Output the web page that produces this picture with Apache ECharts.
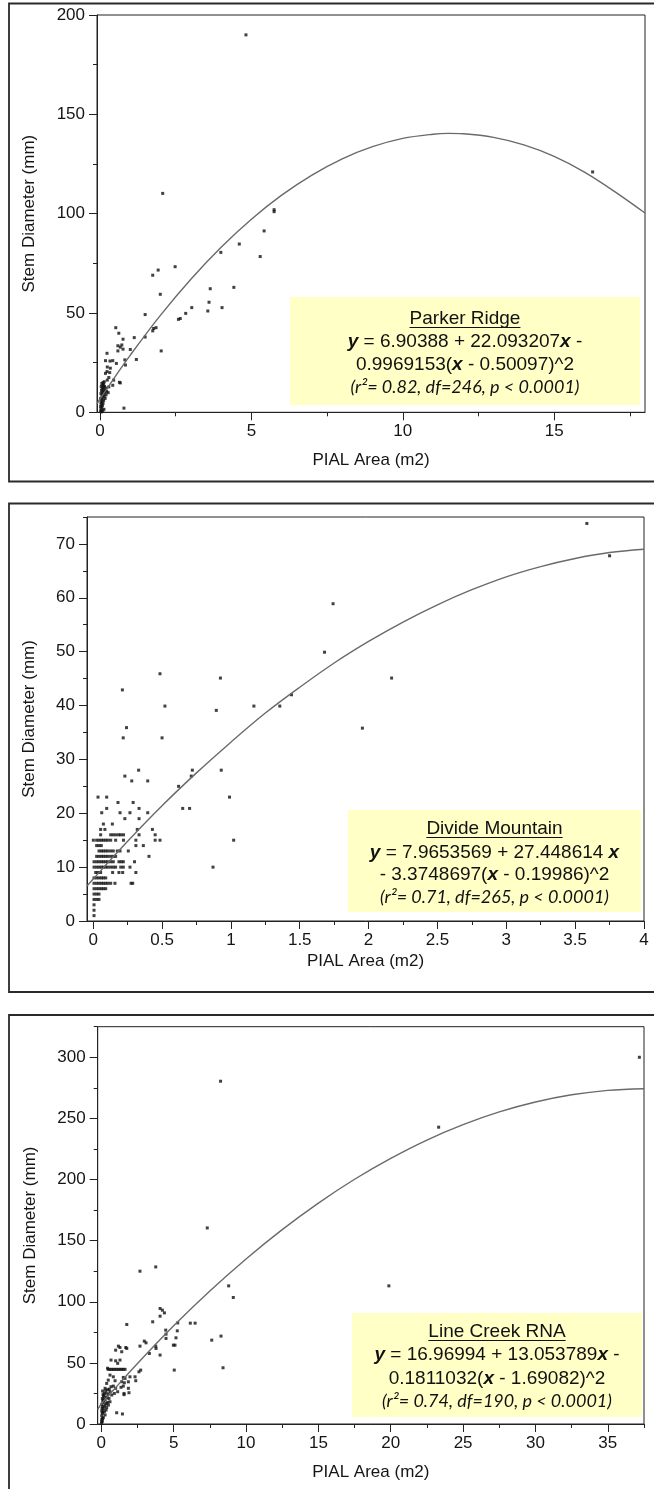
<!DOCTYPE html>
<html><head><meta charset="utf-8">
<script src="https://cdn.jsdelivr.net/npm/echarts@6/dist/echarts.min.js"></script>
<style>html,body{margin:0;padding:0;background:#fff}#c{width:654px;height:1489px}</style>
</head><body><div id="c"></div>
<script>
// ---------- Panel 1: Parker Ridge ----------
const p1XTicks = [0, 5, 10, 15];
const p1XMinor = [2.5, 7.5, 12.5, 17.5];
const p1YTicks = [0, 50, 100, 150, 200];
const p1YMinor = [25, 75, 125, 175];
const p1Points = [
 [4.82,190],[16.27,121],[5.75,102],[5.75,101],[5.42,91.3],[4.6,84.7],[3.99,80.5],[5.29,78.4],[2.07,110.2],[2.48,73.3],
 [1.92,71.6],[1.74,69],[1.99,59.4],[4.42,62.9],[3.64,62.2],[3.6,55.4],[4.03,52.7],[3.03,52.7],[3.56,51],[2.83,49.8],
 [2.65,47.2],[2.59,46.8],[1.49,49.2],[1.85,42.6],[1.77,42.2],[1.74,41],[1.49,37.9],[1.13,37.6],[2.02,30.9],[1.2,26.6],
 [0.52,42.6],[0.62,39.8],[0.76,36.8],[0.59,33.5],[0.67,32.8],[0.72,33.9],[0.76,31.8],[0.59,30.9],[1.0,31.6],[0.82,26.4],
 [0.84,23.8],[0.64,15.1],[0.79,2.1],
 [0.23,29.7],[0.18,26],[0.33,25.8],[0.42,26],[0.54,24.6],[0.24,22.8],[0.34,22.2],[0.23,20.5],[0.32,20],[0.18,19.6],
 [0.29,17.5],[0.24,16.2],[0.45,16.2],[0.14,15.4],[0.67,14.8],[0.42,13.6],[0.29,12.8],[0.27,9.9],
 [0.02,0.5],[0.04,1],[0.03,2],[0.06,2.5],[0.02,3],[0.08,3.5],[0.04,4],[0.1,4.5],[0.03,5],[0.07,5.5],[0.12,6],[0.05,6.5],
 [0.02,7],[0.09,7.5],[0.14,8],[0.06,8.5],[0.11,9],[0.03,9.5],[0.16,9.8],[0.08,10],[0.13,10.5],[0.05,11],[0.1,11.5],
 [0.18,11],[0.07,12],[0.12,12.5],[0.04,13],[0.15,13],[0.09,13.5],[0.12,14],[0.06,14.5],[0.1,15],[0.2,12.2],[0.22,10.5],
 [0.17,7],[0.2,8.8],[0.13,1.5],[0.09,0.8],[0.05,0.2]
];
const p1Curve = [[-0.1,4.3],[0,6.7],[0.5,18],[1,28.8],[2,48.9],[3,67],[4,83.1],[5,97.2],[6,109.3],[7,119.4],[8,127.6],
 [9,133.7],[10,137.9],[11,140],[11.5,140.4],[12,140.2],[13,138.4],[14,134.6],[15,128.8],[16,120.9],[17,111.1],[18,100.3]];
const p1Text = ['Parker Ridge', '{bi|y} = 6.90388 + 22.093207{bi|x} -', '0.9969153({bi|x} - 0.50097)^2', '(r\u00b2= 0.82, df=246, p < 0.0001)'];

// ---------- Panel 2: Divide Mountain ----------
const p2XTicks = [0, 0.5, 1, 1.5, 2, 2.5, 3, 3.5, 4];
const p2XMinor = [0.25, 0.75, 1.25, 1.75, 2.25, 2.75, 3.25, 3.75];
const p2YTicks = [0, 10, 20, 30, 40, 50, 60, 70];
const p2YMinor = [5, 15, 25, 35, 45, 55, 65, 75];
const p2Points = [
 [3.585,73.8],[3.75,67.8],[1.742,58.9],[1.68,49.9],[2.167,45.1],[1.955,35.8],[1.44,42],[1.355,39.9],[1.167,39.9],
 [0.924,45.1],[0.894,39.1],[0.485,45.9],[0.521,39.9],[0.5,34],[0.212,42.9],[0.242,35.9],[0.218,34],[0.93,28],[0.72,28],
 [0.712,26.9],[0.99,23],[1.02,15],[0.87,10],[0.65,20.9],[0.70,20.9],[0.62,25],[0.33,28],[0.396,26],[0.28,26],[0.23,26.9],
 [0.035,23],[0.098,23],[0.18,22],[0.29,22],[0.098,20.9],[0.333,20.9],[0.062,20.1],[0.195,20.1],[0.267,20.1],[0.396,20.1],
 [0.23,19],[0.333,19],[0.074,18],[0.139,18],[0.054,17],[0.085,17],[0.32,17],[0.43,17],
 [0.054,16],[0.127,16],[0.146,16],[0.165,16],[0.185,16],[0.2,16],[0.22,16],[0.333,16],[0.45,16],
 [0.001,15],[0.025,15],[0.042,15],[0.059,15],[0.074,15],[0.091,15],[0.107,15],[0.127,15],[0.163,15],[0.22,15],[0.31,15],[0.45,15],[0.485,15],
 [0.025,14],[0.042,14],[0.059,14],[0.31,14],[0.364,14],
 [0.042,13],[0.059,13],[0.074,13],[0.091,13],[0.107,13],[0.127,13],[0.146,13],[0.175,13],[0.195,13],[0.255,13],
 [0.025,12],[0.042,12],[0.059,12],[0.074,12],[0.091,12],[0.107,12],[0.127,12],[0.146,12],[0.163,12],[0.405,12],
 [0.006,11],[0.025,11],[0.042,11],[0.059,11],[0.074,11],[0.091,11],[0.107,11],[0.127,11],[0.146,11],[0.187,11],[0.204,11],[0.219,11],[0.3,11],
 [0.006,10],[0.025,10],[0.042,10],[0.059,10],[0.074,10],[0.091,10],[0.107,10],[0.127,10],[0.146,10],[0.163,10],[0.2,10],[0.219,10],[0.267,10],
 [0.018,9],[0.035,9],[0.054,9],[0.141,9],[0.187,9],[0.214,9],[0.31,9],
 [0.006,8],[0.025,8],[0.042,8],[0.059,8],[0.074,8],[0.091,8],
 [0.006,7],[0.025,7],[0.042,7],[0.059,7],[0.074,7],[0.091,7],[0.107,7],[0.127,7],[0.158,7],[0.275,7],[0.287,7],
 [0.006,6],[0.025,6],[0.042,6],[0.059,6],[0.074,6],[0.091,6],
 [0.006,5],[0.025,5],[0.042,5],[0.006,4],[0.025,4],[0.042,4],[0.006,3],[0.006,2],[0.006,1]
];
const p2Curve = [[-0.045,6.5],[0,7.8],[0.25,14.8],[0.5,21.4],[0.75,27.5],[1,33.2],[1.25,38.6],[1.5,43.4],[1.75,47.9],
 [2,51.9],[2.25,55.5],[2.5,58.7],[2.75,61.5],[3,63.9],[3.25,65.8],[3.5,67.3],[3.75,68.4],[4,69]];
const p2Text = ['Divide Mountain', '{bi|y} = 7.9653569 + 27.448614 {bi|x}', '- 3.3748697({bi|x} - 0.19986)^2', '(r\u00b2= 0.71, df=265, p < 0.0001)'];

// ---------- Panel 3: Line Creek RNA ----------
const p3XTicks = [0, 5, 10, 15, 20, 25, 30, 35];
const p3XMinor = [2.5, 7.5, 12.5, 17.5, 22.5, 27.5, 32.5, 37.5];
const p3YTicks = [0, 50, 100, 150, 200, 250, 300];
const p3YMinor = [25, 75, 125, 175, 225, 275, 325];
const p3Points = [
 [37.18,300],[23.31,242.8],[8.24,280.4],[7.32,160.4],[19.87,113],[8.8,113],[9.12,103.5],[8.27,71.9],[7.63,68.6],[8.41,46],
 [3.76,128.5],[2.67,125],[4.06,94.5],[4.22,93.1],[4.36,90.9],[4.06,88.2],[3.55,83.6],[1.76,81.4],[5.28,82.7],[6.15,82.5],
 [6.48,82.5],[4.45,76.8],[5.25,76.2],[4.47,73.5],[4.47,70],[5.16,70.5],[4.98,64.5],[5.09,64.5],[2.97,67.8],[3.09,66.4],
 [2.67,63.7],[3.76,63.7],[3.78,61.8],[3.32,57.7],[4.06,56.4],[5.04,44.1],[2.72,44.1],[2.6,42.7],[2.33,38.6],[2.38,35.4],
 [1.98,38.6],[1.87,34.5],[1.57,25],[1.57,24],[1.06,9.2],[1.46,8.2],
 [1.18,63.7],[1.29,62.6],[0.99,60.4],[1.41,59.1],[1.69,62.6],[1.76,61.8],[0.67,52.3],[0.99,51.7],[1.29,52.3],[1.13,49.6],
 [0.43,45.6],[0.48,44.7],[0.6,44.7],[0.71,44.7],[0.83,44.7],[0.94,44.7],[1.06,44.7],[1.18,44.7],[1.29,44.7],[1.41,44.7],[1.52,44.7],[1.64,44.7],
 [0.6,40],[0.83,38.6],[0.48,35.9],[0.95,35.4],[0.37,33.2],[1.52,38.1],[1.64,37.3],[1.41,34.6],[1.59,33.7],[1.52,31],[1.36,30],
 [0.67,30.5],[0.83,31],[0.99,29.2],[1.13,26.4],[0.9,25],[1.87,29.2],[1.91,25.6],
 [0.26,29.2],[0.44,28.1],[0.09,27],[0.6,26.4],[0.33,25.3],[0.48,24.5],[0.16,23.3],[0.72,23.7],[0.37,22.2],[0.07,20.9],
 [0.53,20.9],[0.26,19.6],[0.14,17.7],[0.44,17.7],[0.03,16.1],[0.26,15.5],[0.07,14.2],[0.37,13.4],[0.14,12.3],[0.03,10.6],
 [0.21,10.1],[0.07,8.7],[0.26,7.4],[0.03,6.8],[0.14,5.2],[0.03,3.8],[0.07,2.4],[0.03,1.9],[0.49,15.5],[0.6,18.2],
 [0.14,19.6],[0.33,11.4],[0.19,14.2],[0.3,27.5],[0.2,25],[0.55,28.5],[0.4,21.5],[0.12,24],[0.35,16.8],[0.1,18.8],
 [0.05,12.5],[0.1,9.5],[0.02,0.8],[0.08,4.5],[0.18,21.8]
];
const p3Curve = [[-0.25,12],[0,16.4],[1,29.9],[2.5,49.5],[5,80.3],[7.5,108.8],[10,135],[12.5,159],[15,180.7],[17.5,200.2],
 [20,217.3],[22.5,232.3],[25,244.9],[27.5,255.3],[30,263.4],[32.5,269.3],[35,272.9],[37.5,274.3]];
const p3Text = ['Line Creek RNA', '{bi|y} = 16.96994 + 13.053789{bi|x} -', '0.1811032({bi|x} - 1.69082)^2', '(r\u00b2= 0.74, df=190, p < 0.0001)'];

const xTitle = 'PIAL Area (m2)';
const yTitle = 'Stem Diameter (mm)';

// ---------- layout / styling ----------
const FONT = '"Liberation Sans", Arial, Helvetica, sans-serif';
const IFONT = 'Lato, "Open Sans", sans-serif';
const INK = '#151515';
const panels = [
 {points:p1Points, curve:p1Curve, text:p1Text, xr:[-0.1,18], yr:[0,200], xt:p1XTicks, xm:p1XMinor, yt:p1YTicks, ym:p1YMinor,
  grid:{left:97, top:15, width:548, height:397.3}, xGap:40, yGap:59, frame:[9,3.5,660,478], box:[290,297,350,108], lines:[319,342,364.5,387]},
 {points:p2Points, curve:p2Curve, text:p2Text, xr:[-0.045,4], yr:[0,75], xt:p2XTicks, xm:p2XMinor, yt:p2YTicks, ym:p2YMinor,
  grid:{left:87, top:517, width:557, height:404}, xGap:32, yGap:49, frame:[9,503.5,660,488.5], box:[348,810,293,102], lines:[829,852.5,875,897.5]},
 {points:p3Points, curve:p3Curve, text:p3Text, xr:[-0.25,37.5], yr:[0,325], xt:p3XTicks, xm:p3XMinor, yt:p3YTicks, ym:p3YMinor,
  grid:{left:97.7, top:1026.7, width:546.3, height:397.3}, xGap:40, yGap:59, frame:[9,1015,660,500], box:[352,1313,290,104], lines:[1332,1355,1378.5,1401.5]}
];

const mctx = document.createElement('canvas').getContext('2d');
mctx.font = '19px "Liberation Sans"';

const grid = [], xAxis = [], yAxis = [], series = [], graphic = [];
panels.forEach((p, i) => {
  grid.push(Object.assign({show:true, borderColor:'#222', borderWidth:1, backgroundColor:'rgba(0,0,0,0)', containLabel:false, outerBoundsMode:'none'}, p.grid));
  const lab = {fontSize:17, color:INK, fontFamily:FONT, margin:11};
  const nameStyle = {fontSize:17, color:INK, fontFamily:FONT};
  xAxis.push({type:'value', gridIndex:i, min:p.xr[0], max:p.xr[1], position:'bottom',
    axisLine:{show:true, onZero:false, lineStyle:{color:'#222', width:1}},
    axisTick:{show:true, length:8, customValues:p.xt, lineStyle:{color:'#222'}},
    axisLabel:Object.assign({customValues:p.xt}, lab), splitLine:{show:false},
    name:xTitle, nameLocation:'middle', nameGap:p.xGap, nameTextStyle:nameStyle, nameMoveOverlap:false});
  xAxis.push({type:'value', gridIndex:i, min:p.xr[0], max:p.xr[1], position:'bottom',
    axisLine:{show:false, onZero:false}, axisTick:{show:true, length:4, customValues:p.xm, lineStyle:{color:'#222'}},
    axisLabel:{show:false}, splitLine:{show:false}});
  yAxis.push({type:'value', gridIndex:i, min:p.yr[0], max:p.yr[1], position:'left',
    axisLine:{show:true, onZero:false, lineStyle:{color:'#222', width:1}},
    axisTick:{show:true, length:8, customValues:p.yt, lineStyle:{color:'#222'}},
    axisLabel:Object.assign({customValues:p.yt}, lab, {margin:12}), splitLine:{show:false},
    name:yTitle, nameLocation:'middle', nameGap:p.yGap, nameTextStyle:nameStyle, nameMoveOverlap:false});
  yAxis.push({type:'value', gridIndex:i, min:p.yr[0], max:p.yr[1], position:'left',
    axisLine:{show:false, onZero:false}, axisTick:{show:true, length:4, customValues:p.ym, lineStyle:{color:'#222'}},
    axisLabel:{show:false}, splitLine:{show:false}});
  series.push({type:'scatter', xAxisIndex:2*i, yAxisIndex:2*i, data:p.points, symbol:'rect', symbolSize:3,
    itemStyle:{color:'#111'}, silent:true});
  series.push({type:'line', xAxisIndex:2*i, yAxisIndex:2*i, data:p.curve, smooth:0.35, showSymbol:false, silent:true,
    lineStyle:{color:'#6a6a6a', width:1.4}, clip:true});

  // outer panel frame
  graphic.push({type:'rect', shape:{x:p.frame[0], y:p.frame[1], width:p.frame[2], height:p.frame[3]},
    style:{fill:'none', stroke:'#2a2a2a', lineWidth:1.8}, silent:true, z:10});
  // legend box
  const [bx, by, bw, bh] = p.box;
  const cx = bx + bw / 2;
  graphic.push({type:'rect', shape:{x:bx, y:by, width:bw, height:bh}, style:{fill:'#FFFFC6'}, silent:true, z:20});
  const bi = {fontStyle:'italic', fontWeight:'bold', fontSize:19, fontFamily:FONT, fill:'#111'};
  p.text.forEach((t, k) => {
    const italic = k === 3;
    graphic.push({type:'text', x:cx, y:p.lines[k], silent:true, z:21,
      style:{text:t, align:'center', verticalAlign:'middle', fill:'#111',
        fontSize: italic ? 18 : 19, fontFamily: italic ? IFONT : FONT, fontStyle: italic ? 'italic' : 'normal',
        rich:{bi:bi}}});
  });
  const w = mctx.measureText(p.text[0]).width;
  graphic.push({type:'line', shape:{x1:cx - w/2, y1:p.lines[0] + 8.5, x2:cx + w/2, y2:p.lines[0] + 8.5},
    style:{stroke:'#111', lineWidth:1}, silent:true, z:21});
});

const chart = echarts.init(document.getElementById('c'), null, {renderer:'canvas', width:654, height:1489});
chart.setOption({animation:false, backgroundColor:'#ffffff', grid, xAxis, yAxis, series, graphic});
</script>
</body></html>
